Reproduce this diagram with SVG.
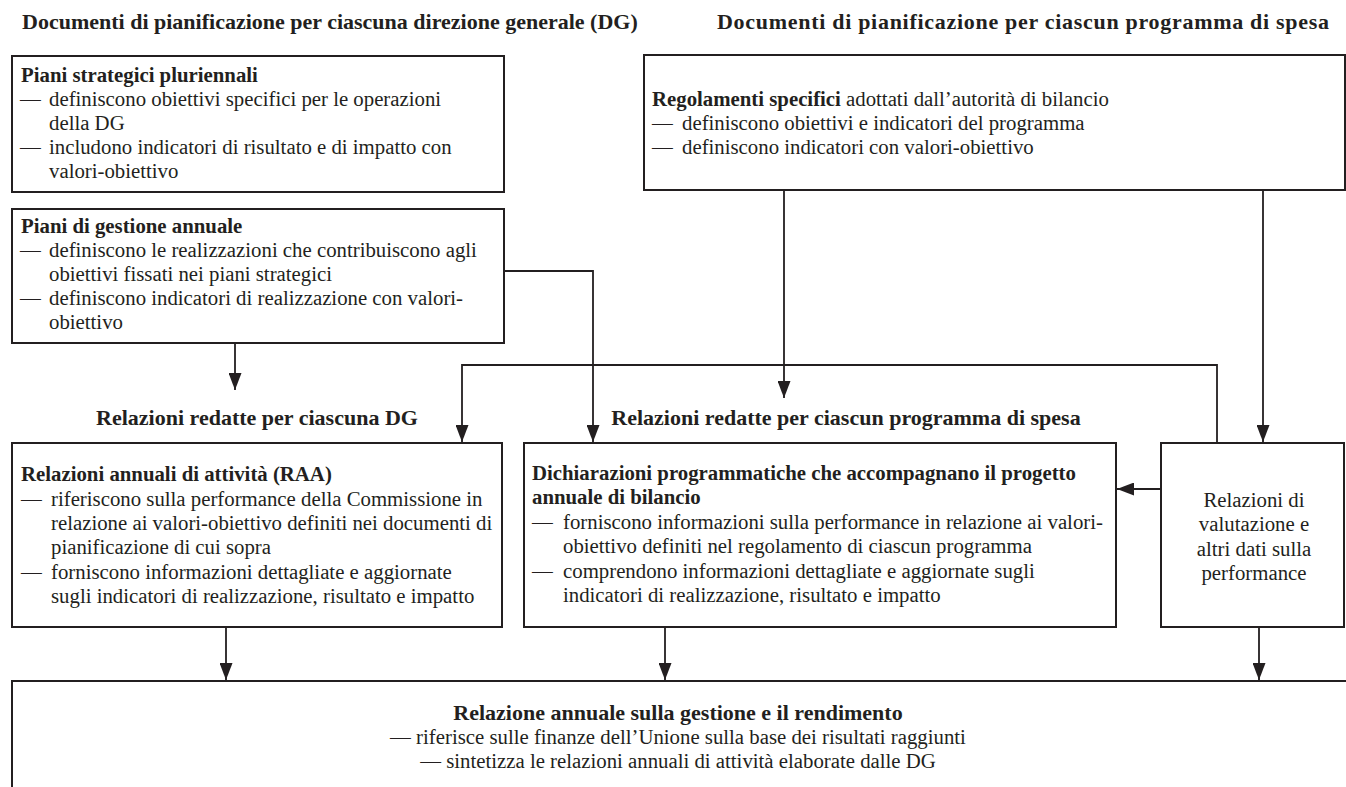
<svg xmlns="http://www.w3.org/2000/svg" width="1346" height="787" viewBox="0 0 1346 787">
  <defs>
    <marker id="arrow" markerUnits="userSpaceOnUse" viewBox="0 0 17 13" refX="17" refY="6.5" markerWidth="17" markerHeight="13" orient="auto">
      <path d="M0,0 L17,6.5 L0,13 z" fill="#231f20"/>
    </marker>
    <style>
      .box { fill: #ffffff; stroke: #231f20; stroke-width: 2; }
      .link { fill: none; stroke: #231f20; stroke-width: 1.8; }
      text { font-family: "Liberation Serif", "Times New Roman", serif; fill: #231f20; }
      .t { font-size: 20.8px; }
      .b { font-size: 20.8px; font-weight: bold; }
      .h { font-size: 22px; font-weight: bold; }
      .c { text-anchor: middle; }
    </style>
  </defs>

  <rect width="1346" height="787" fill="#ffffff"/>

  <!-- section headings -->
  <g id="headings">
    <text class="h" x="22" y="29">Documenti di pianificazione per ciascuna direzione generale (DG)</text>
    <text class="h" x="717" y="29" textLength="612" lengthAdjust="spacing">Documenti di pianificazione per ciascun programma di spesa</text>
    <text class="h c" x="257" y="425">Relazioni redatte per ciascuna DG</text>
    <text class="h c" x="846" y="425">Relazioni redatte per ciascun programma di spesa</text>
  </g>

  <!-- connectors -->
  <g id="connectors">
    <path class="link" d="M235,343 V390" marker-end="url(#arrow)"/>
    <path class="link" d="M504,271 H593 V442" marker-end="url(#arrow)"/>
    <path class="link" d="M784,190 V398" marker-end="url(#arrow)"/>
    <path class="link" d="M1263,190 V442" marker-end="url(#arrow)"/>
    <path class="link" d="M1217,443 V365 H462 V442" marker-end="url(#arrow)"/>
    <path class="link" d="M1161,489 H1117" marker-end="url(#arrow)"/>
    <path class="link" d="M226,627 V680" marker-end="url(#arrow)"/>
    <path class="link" d="M665,627 V680" marker-end="url(#arrow)"/>
    <path class="link" d="M1259,627 V680" marker-end="url(#arrow)"/>
  </g>

  <!-- multi-annual strategic plans -->
  <g id="piani-strategici">
    <rect class="box" x="12" y="56" width="492" height="136"/>
    <text class="b" x="21" y="82">Piani strategici pluriennali</text>
    <text class="t" x="20" y="106">—</text>
    <text class="t" x="49" y="106">definiscono obiettivi specifici per le operazioni</text>
    <text class="t" x="49" y="130">della DG</text>
    <text class="t" x="20" y="154">—</text>
    <text class="t" x="49" y="154">includono indicatori di risultato e di impatto con</text>
    <text class="t" x="49" y="178">valori-obiettivo</text>
  </g>

  <!-- annual management plans -->
  <g id="piani-gestione">
    <rect class="box" x="12" y="209" width="492" height="134"/>
    <text class="b" x="21" y="233">Piani di gestione annuale</text>
    <text class="t" x="20" y="257">—</text>
    <text class="t" x="49" y="257">definiscono le realizzazioni che contribuiscono agli</text>
    <text class="t" x="49" y="281">obiettivi fissati nei piani strategici</text>
    <text class="t" x="20" y="305">—</text>
    <text class="t" x="49" y="305">definiscono indicatori di realizzazione con valori-</text>
    <text class="t" x="49" y="329">obiettivo</text>
  </g>

  <!-- specific regulations -->
  <g id="regolamenti">
    <rect class="box" x="644" y="55" width="701" height="135"/>
    <text class="t" x="652" y="106"><tspan font-weight="bold">Regolamenti specifici</tspan> adottati dall’autorità di bilancio</text>
    <text class="t" x="652" y="130">—</text>
    <text class="t" x="682" y="130">definiscono obiettivi e indicatori del programma</text>
    <text class="t" x="652" y="154">—</text>
    <text class="t" x="682" y="154">definiscono indicatori con valori-obiettivo</text>
  </g>

  <!-- annual activity reports -->
  <g id="raa">
    <rect class="box" x="12" y="443" width="490" height="184"/>
    <text class="b" x="21" y="481">Relazioni annuali di attività (RAA)</text>
    <text class="t" x="21" y="506">—</text>
    <text class="t" x="51" y="506">riferiscono sulla performance della Commissione in</text>
    <text class="t" x="51" y="530">relazione ai valori-obiettivo definiti nei documenti di</text>
    <text class="t" x="51" y="554">pianificazione di cui sopra</text>
    <text class="t" x="21" y="579">—</text>
    <text class="t" x="51" y="579">forniscono informazioni dettagliate e aggiornate</text>
    <text class="t" x="51" y="603">sugli indicatori di realizzazione, risultato e impatto</text>
  </g>

  <!-- programme statements -->
  <g id="dichiarazioni">
    <rect class="box" x="524" y="443" width="592" height="184"/>
    <text class="b" x="532" y="480">Dichiarazioni programmatiche che accompagnano il progetto</text>
    <text class="b" x="532" y="504">annuale di bilancio</text>
    <text class="t" x="532" y="529">—</text>
    <text class="t" x="563" y="529">forniscono informazioni sulla performance in relazione ai valori-</text>
    <text class="t" x="563" y="553">obiettivo definiti nel regolamento di ciascun programma</text>
    <text class="t" x="532" y="578">—</text>
    <text class="t" x="563" y="578">comprendono informazioni dettagliate e aggiornate sugli</text>
    <text class="t" x="563" y="602">indicatori di realizzazione, risultato e impatto</text>
  </g>

  <!-- evaluations and other performance data -->
  <g id="valutazioni">
    <rect class="box" x="1161" y="443" width="183" height="184"/>
    <text class="t c" x="1254" y="507">Relazioni di</text>
    <text class="t c" x="1254" y="531">valutazione e</text>
    <text class="t c" x="1254" y="556">altri dati sulla</text>
    <text class="t c" x="1254" y="580">performance</text>
  </g>

  <!-- annual management and performance report -->
  <g id="relazione-annuale">
    <rect class="box" x="12" y="681" width="1345" height="130"/>
    <text class="h c" x="678" y="720">Relazione annuale sulla gestione e il rendimento</text>
    <text class="t c" x="678" y="744">— riferisce sulle finanze dell’Unione sulla base dei risultati raggiunti</text>
    <text class="t c" x="678" y="768">— sintetizza le relazioni annuali di attività elaborate dalle DG</text>
  </g>
</svg>
